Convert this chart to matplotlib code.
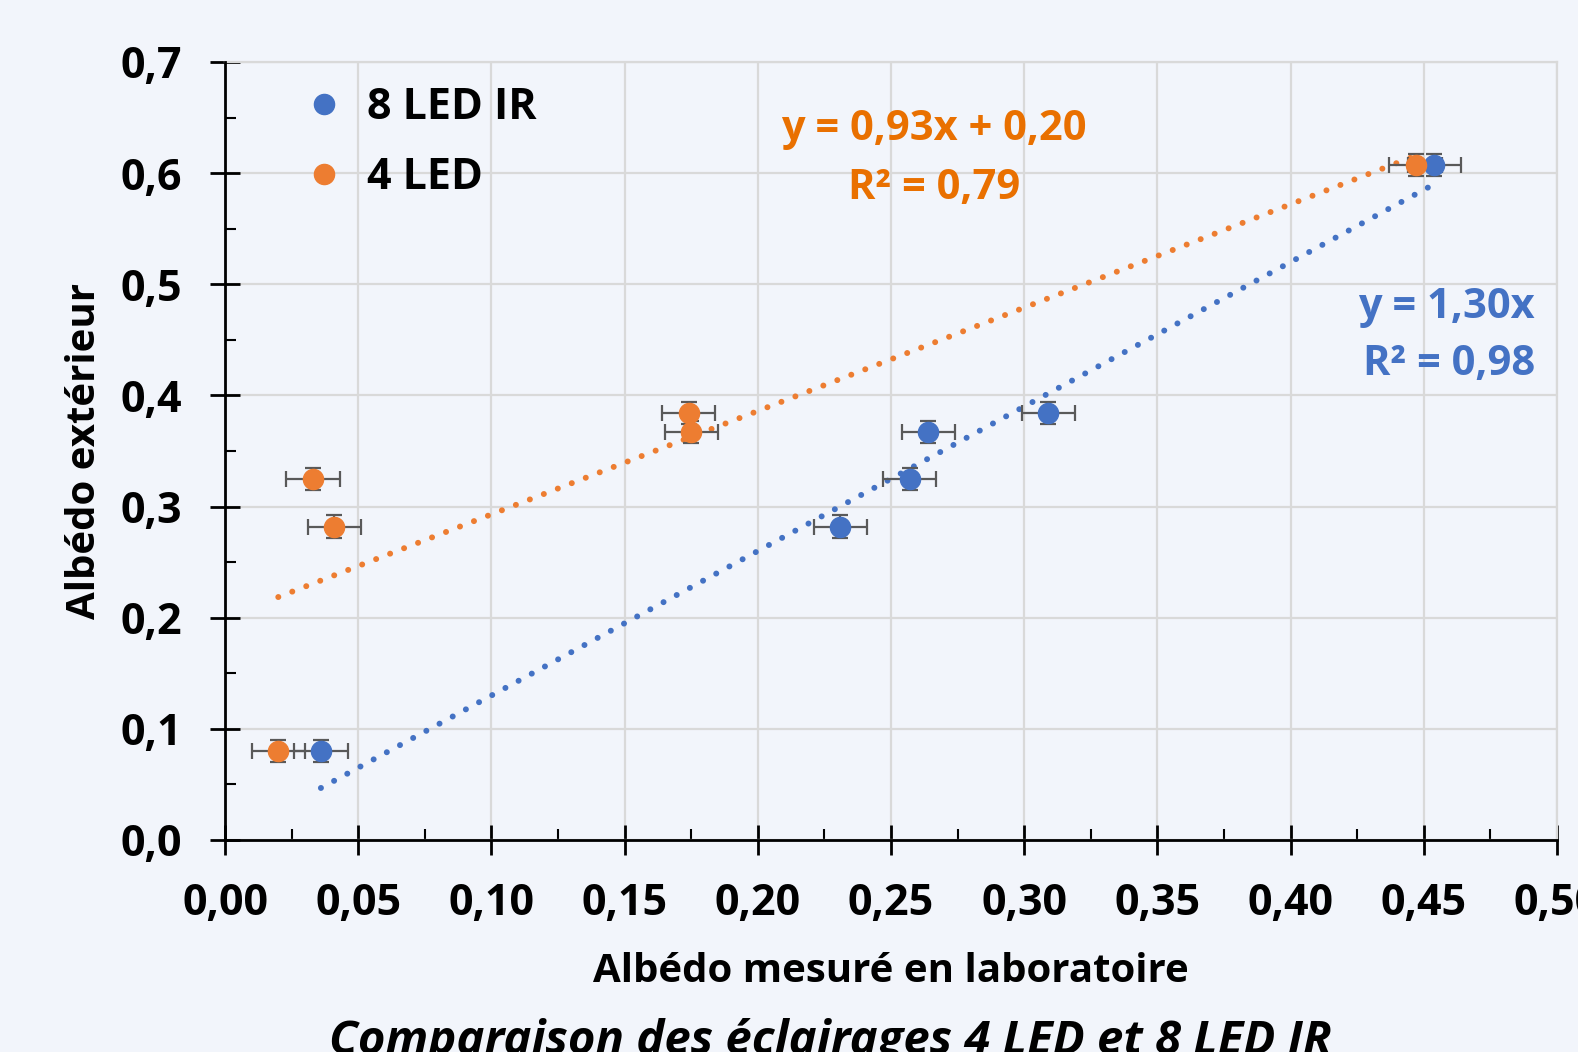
import numpy as np
import matplotlib
matplotlib.use("agg")
import matplotlib.pyplot as plt
from matplotlib.lines import Line2D

plt.rcParams['font.family'] = ['Open Sans', 'DejaVu Sans']
plt.rcParams['font.weight'] = 'bold'

# exterior albedo (same for both lightings)
y_ext = [0.080, 0.325, 0.282, 0.384, 0.367, 0.607]
# lab albedo
x_ir8 = [0.036, 0.257, 0.231, 0.309, 0.264, 0.454]
x_led4 = [0.020, 0.033, 0.041, 0.174, 0.175, 0.447]
x_err = 0.01
y_err = 0.01

# trendlines as given on the chart
ir8_slope = 1.30
led4_slope, led4_icpt = 0.93, 0.20

blue = "#4472C4"
orange = "#ED7D31"
bg = "#f2f5fb"

fig = plt.figure(figsize=(15.78, 10.52), dpi=100, facecolor=bg)
ax = fig.add_axes([225/1578, 1-840/1052, (1557-225)/1578, (840-62)/1052])
ax.set_facecolor(bg)

# trendlines (dotted)
xs = np.linspace(min(x_ir8), max(x_ir8), 50)
ax.plot(xs, ir8_slope*xs, color=blue, lw=4.3, linestyle=(0, (0.01, 2.5)),
        dash_capstyle='round', zorder=2)
xs = np.linspace(min(x_led4), max(x_led4), 50)
ax.plot(xs, led4_slope*xs + led4_icpt, color=orange, lw=4.3, linestyle=(0, (0.01, 2.5)),
        dash_capstyle='round', zorder=2)

for xv, col, lab in [(x_ir8, blue, "8 LED IR"), (x_led4, orange, "4 LED")]:
    ax.errorbar(xv, y_ext, xerr=x_err, yerr=y_err, fmt='none', ecolor="#595959",
                elinewidth=1.6, capsize=6, capthick=1.6, zorder=3)
    ax.plot(xv, y_ext, 'o', color=col, ms=14.5, zorder=4, label=lab)

ax.set_xlim(0, 0.5)
ax.set_ylim(0, 0.7)
ax.set_xticks(np.arange(0, 0.501, 0.05))
ax.set_yticks(np.arange(0, 0.701, 0.1))
ax.set_xticks(np.arange(0.025, 0.5, 0.05), minor=True)
ax.set_yticks(np.arange(0.05, 0.7, 0.1), minor=True)
ax.set_xticklabels([f"{v:.2f}".replace(".", ",") for v in np.arange(0, 0.501, 0.05)])
ax.set_yticklabels([f"{v:.1f}".replace(".", ",") for v in np.arange(0, 0.701, 0.1)])
ax.tick_params(which='major', direction='inout', length=22, width=2, labelsize=31)
ax.tick_params(axis='y', which='major', pad=20)
ax.tick_params(axis='x', which='major', pad=19)
ax.tick_params(which='minor', direction='in', length=8, width=1.5)
ax.grid(True, which='major', color="#d9d9d9", lw=1.6, zorder=0)
ax.set_axisbelow(True)
for s in ['top', 'right']:
    ax.spines[s].set_color("#d9d9d9")
    ax.spines[s].set_linewidth(1.6)
for s in ['left', 'bottom']:
    ax.spines[s].set_linewidth(2)
    ax.spines[s].set_zorder(5)

ax.set_xlabel("Albédo mesuré en laboratoire", fontsize=29, fontweight='bold', labelpad=20)
ax.set_ylabel("Albédo extérieur", fontsize=29, fontweight='bold', labelpad=12)

handles = [Line2D([], [], marker='o', ls='none', color=blue, ms=14.5),
           Line2D([], [], marker='o', ls='none', color=orange, ms=14.5)]
ax.legend(handles, ["8 LED IR", "4 LED"], loc='upper left', bbox_to_anchor=(0.026, 1.019),
          frameon=False, fontsize=31, handletextpad=0.4, labelspacing=0.62, handlelength=1.2)

ax.text(934/1578, 1-130/1052, "y = 0,93x + 0,20", transform=fig.transFigure, color="#E97000",
        fontsize=30, fontweight='bold', ha='center', va='center')
ax.text(934/1578, 1-188/1052, "R² = 0,79", transform=fig.transFigure, color="#E97000",
        fontsize=30, fontweight='bold', ha='center', va='center')
ax.text(1535/1578, 1-308/1052, "y = 1,30x", transform=fig.transFigure, color=blue,
        fontsize=30, fontweight='bold', ha='right', va='center')
ax.text(1535/1578, 1-364/1052, "R² = 0,98", transform=fig.transFigure, color=blue,
        fontsize=30, fontweight='bold', ha='right', va='center')

fig.text(830/1578, 1-1018/1052, "Comparaison des éclairages 4 LED et 8 LED IR",
         fontsize=34, fontweight='bold', style='italic', ha='center', va='top')

fig.savefig("out.png", facecolor=bg)
